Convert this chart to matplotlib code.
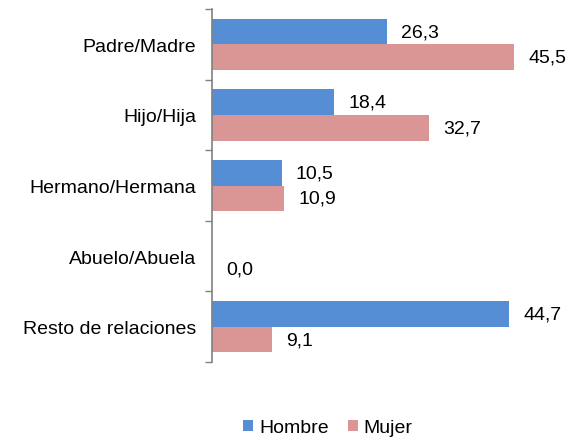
import matplotlib
matplotlib.use("Agg")
import matplotlib.pyplot as plt
import numpy as np
from matplotlib.patches import Patch

plt.rcParams['font.family'] = ['Liberation Sans', 'DejaVu Sans']

categories = ["Padre/Madre", "Hijo/Hija", "Hermano/Hermana", "Abuelo/Abuela", "Resto de relaciones"]
hombre = [26.3, 18.4, 10.5, None, 44.7]
mujer = [45.5, 32.7, 10.9, 0.0, 9.1]
series_names = ["Hombre", "Mujer"]
colors = ["#558ED5", "#D99694"]

fig = plt.figure(figsize=(5.84, 4.39), dpi=100)
ax = fig.add_axes([0.363, 0.173, 0.569, 0.804])

y = np.arange(len(categories))
h = 0.362
fs = 14.0

def fmt(v):
    return f"{v:.1f}".replace(".", ",")

for vals, off, col in [(hombre, -h / 2, colors[0]), (mujer, h / 2, colors[1])]:
    for yi, v in zip(y, vals):
        if v is None:
            continue
        ax.barh(yi + off, v, height=h, color=col, edgecolor='none')
        ax.annotate(fmt(v), xy=(v, yi + off), xytext=(14, 0), textcoords='offset pixels',
                    ha='left', va='center', fontsize=fs, color='black')

ax.set_xlim(0, 50)
ax.set_ylim(len(categories) - 0.5, -0.5)
ax.set_yticks(y)
ax.set_yticklabels(categories, fontsize=fs)
ax.tick_params(axis='y', which='major', length=0, pad=11.5)
ax.set_yticks(np.arange(-0.5, len(categories), 1.0), minor=True)
ax.tick_params(axis='y', which='minor', length=5, width=1, color='#808080')
ax.set_xticks([])
for s in ['top', 'right', 'bottom']:
    ax.spines[s].set_visible(False)
ax.spines['left'].set_color('#808080')
ax.spines['left'].set_linewidth(1.2)

handles = [Patch(facecolor=c, edgecolor='none') for c in colors]
fig.legend(handles, series_names, loc='center', bbox_to_anchor=(328 / 584, 1 - 429 / 439),
           ncol=2, frameon=False, fontsize=fs, handlelength=0.5, handleheight=0.5,
           handletextpad=0.3, columnspacing=1.0)

fig.savefig("out.png", dpi=100)
